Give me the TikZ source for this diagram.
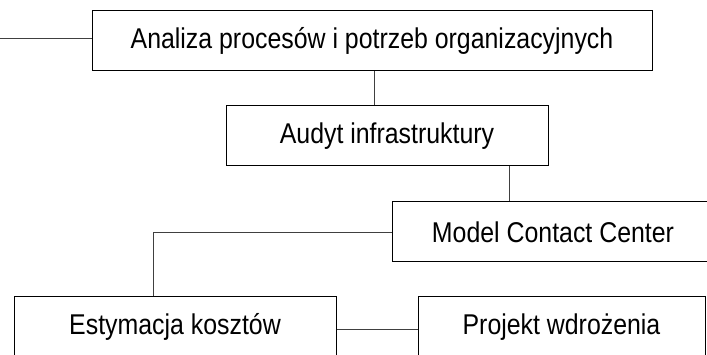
\documentclass[tikz,border=0pt]{standalone}
\usepackage{fontspec}
\setmainfont{Liberation Sans}[FakeStretch=0.87]
\begin{document}
\begin{tikzpicture}[x=1pt,y=-1pt,
  box/.style={draw=black, line width=1pt, rectangle, inner sep=0pt,
    minimum height=60pt, font=\fontsize{28.6}{32}\selectfont, text=black},
  link/.style={draw=black!75, line width=0.9pt}]
\useasboundingbox (0,0) rectangle (707,355);
\clip (0,0) rectangle (707,355);
\node[box, minimum width=560pt] (b1) at (372,41) {Analiza procesów i potrzeb organizacyjnych};
\node[box, minimum width=322pt] (b2) at (387,136) {Audyt infrastruktury};
\node[box, minimum width=322pt] (b3) at (553,232) {Model Contact Center};
\node[box, minimum width=322pt] (b4) at (175,327) {Estymacja kosztów};
\node[box, minimum width=287pt] (b5) at (561.5,327) {Projekt wdrożenia};
\coordinate (start) at (0,38);
\coordinate (c12) at (374,0);
\coordinate (c23) at (509,0);
\coordinate (c34) at (153,0);
\coordinate (c45) at (0,329);
\draw[link] (start) -- (start -| b1.west);
\draw[link] (b1.south -| c12) -- (b2.north -| c12);
\draw[link] (b2.south -| c23) -- (b3.north -| c23);
\draw[link] (b3.west) -| (b4.north -| c34);
\draw[link] (b4.east |- c45) -- (b5.west |- c45);
\end{tikzpicture}
\end{document}
